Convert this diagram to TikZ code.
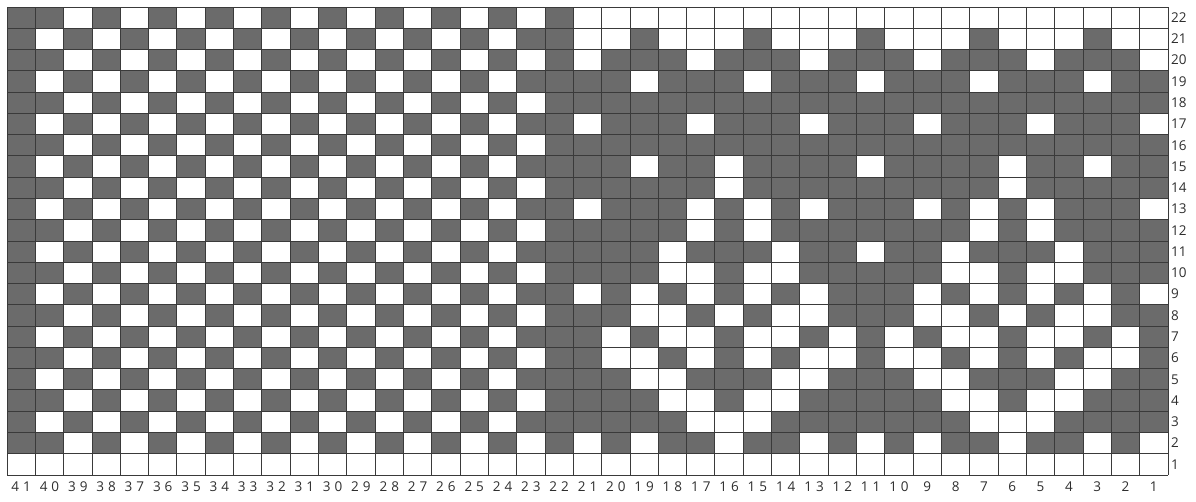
\documentclass[tikz,border=0pt]{standalone}
\usepackage{fontspec}
\setmainfont{Open Sans}
\definecolor{cellfill}{HTML}{6B6B6B}
\definecolor{gridline}{HTML}{3A3A3A}
\definecolor{labeltext}{HTML}{2E2E2E}
\begin{document}
\begin{tikzpicture}[x=1pt,y=1pt,
  darkcell/.style={fill=cellfill},
  gridstroke/.style={draw=gridline,line width=0.9pt},
  rowlabel/.style={anchor=west,inner sep=0pt,text=labeltext,font=\fontsize{13.5}{15}\selectfont},
  collabel/.style={anchor=center,inner sep=0pt,text=labeltext,font=\fontsize{13.5}{15}\selectfont}]
\useasboundingbox (0,0) rectangle (1196,502);
\def\W{28.317}
\def\H{21.273}
% left region: column 41 and column 22 dark, checkerboard between
\foreach \r in {2,...,22}{
  \foreach \c in {22,...,41}{
    \pgfmathtruncatemacro\myparity{mod(\c+\r,2)}
    \pgfmathtruncatemacro\isdark{(\c==41)||(\c==22)||(\myparity==0)}
    \ifnum\isdark=1
      \fill[darkcell] ({7+(41-\c)*\W},{27+(\r-1)*\H}) rectangle ++(\W,\H);
    \fi
  }
}
% right region: columns 21..1
\foreach \r/\s in {
22/{0,0,0,0,0,0,0,0,0,0,0,0,0,0,0,0,0,0,0,0,0},
21/{0,0,1,0,0,0,1,0,0,0,1,0,0,0,1,0,0,0,1,0,0},
20/{0,1,1,1,0,1,1,1,0,1,1,1,0,1,1,1,0,1,1,1,0},
19/{1,1,0,1,1,1,0,1,1,1,0,1,1,1,0,1,1,1,0,1,1},
18/{1,1,1,1,1,1,1,1,1,1,1,1,1,1,1,1,1,1,1,1,1},
17/{0,1,1,1,0,1,1,1,0,1,1,1,0,1,1,1,0,1,1,1,0},
16/{1,1,1,1,1,1,1,1,1,1,1,1,1,1,1,1,1,1,1,1,1},
15/{1,1,0,1,1,0,1,1,1,1,0,1,1,1,1,0,1,1,0,1,1},
14/{1,1,1,1,1,0,1,1,1,1,1,1,1,1,1,0,1,1,1,1,1},
13/{0,1,1,1,0,1,0,1,0,1,1,1,0,1,0,1,0,1,1,1,0},
12/{1,1,1,1,0,1,0,1,1,1,1,1,1,1,0,1,0,1,1,1,1},
11/{1,1,1,0,1,1,1,0,1,1,0,1,1,0,1,1,1,0,1,1,1},
10/{1,1,1,0,0,1,0,0,1,1,1,1,1,0,0,1,0,0,1,1,1},
9/{0,1,0,1,0,1,0,1,0,1,1,1,0,1,0,1,0,1,0,1,0},
8/{1,1,0,0,1,0,1,0,0,1,1,1,0,0,1,0,1,0,0,1,1},
7/{1,0,1,0,0,1,0,0,1,0,1,0,1,0,0,1,0,0,1,0,1},
6/{1,0,0,1,0,1,0,1,0,0,1,0,0,1,0,1,0,1,0,0,1},
5/{1,1,0,0,1,1,1,0,0,1,1,1,0,0,1,1,1,0,0,1,1},
4/{1,1,1,0,0,1,0,0,1,1,1,1,1,0,0,1,0,0,1,1,1},
3/{1,1,1,1,0,0,0,1,1,1,1,1,1,1,0,0,0,1,1,1,1},
2/{0,1,0,1,1,0,1,1,0,1,0,1,0,1,1,0,1,1,0,1,0}}{
  \foreach \v [count=\k] in \s {
    \ifnum\v=1
      \fill[darkcell] ({7+(19+\k)*\W},{27+(\r-1)*\H}) rectangle ++(\W,\H);
    \fi
  }
}
% grid lines
\foreach \i in {0,...,41}{
  \draw[gridstroke] ({7+\i*\W},27) -- ({7+\i*\W},495);
}
\foreach \j in {0,...,22}{
  \draw[gridstroke] (7,{27+\j*\H}) -- (1168,{27+\j*\H});
}
% row labels
\foreach \r in {1,...,22}{
  \node[rowlabel] (row\r) at (1171,{27+(\r-0.5)*\H}) {\r};
}
% column labels
\foreach \c in {1,...,41}{
  \pgfmathtruncatemacro\tens{\c/10}
  \pgfmathtruncatemacro\units{\c-10*\tens}
  \node[collabel] (col\c) at ({7+(41-\c+0.5)*\W},15) {\ifnum\tens>0 \tens\kern4pt\fi\units};
}
\end{tikzpicture}
\end{document}
